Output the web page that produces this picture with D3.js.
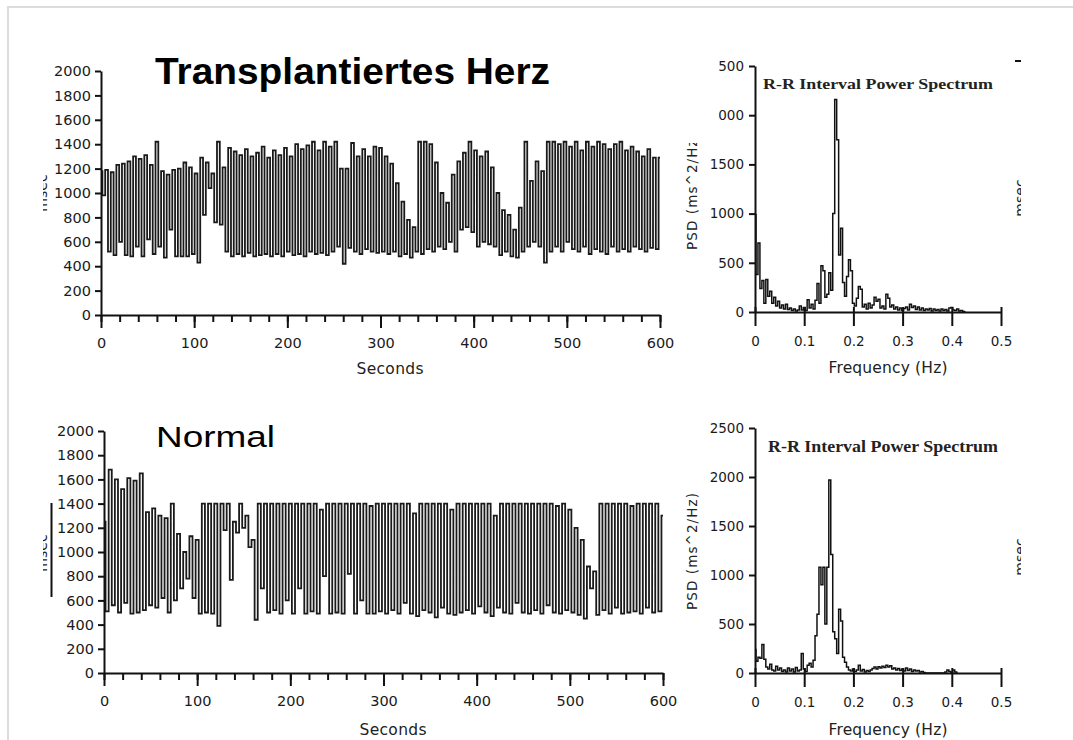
<!DOCTYPE html>
<html>
<head>
<meta charset="utf-8">
<script src="https://cdn.jsdelivr.net/npm/d3@7"></script>
<style>
  body { margin: 0; background: #fff; }
  svg { display: block; }
  .axis text { font-family: "DejaVu Sans", sans-serif; fill: #1a1a1a; }
  .axis line, .axis path { stroke: #111; stroke-width: 2; }
  .label { font-family: "DejaVu Sans", sans-serif; fill: #222; }
</style>
</head>
<body>
<svg id="chart" width="1073" height="740"></svg>
<script>
// R-R intervals (msec), one sample every `step` seconds
const transplantStep = 3;
const transplantRR = [
  1180, 980, 1190, 520, 1170, 490, 1230, 600, 1240, 490,
  1260, 480, 1300, 560, 1280, 480, 1310, 620, 1230, 500,
  1420, 560, 1180, 470, 1150, 700, 1190, 480, 1200, 480,
  1250, 480, 1210, 500, 1160, 430, 1290, 820, 1250, 1040,
  1160, 760, 1420, 740, 1210, 520, 1370, 480, 1340, 500,
  1310, 480, 1360, 510, 1300, 480, 1330, 490, 1380, 500,
  1290, 480, 1350, 500, 1310, 480, 1370, 520, 1300, 490,
  1400, 500, 1360, 480, 1390, 520, 1420, 500, 1350, 510,
  1420, 490, 1380, 520, 1420, 560, 1200, 420, 1200, 550,
  1410, 520, 1300, 500, 1360, 540, 1300, 520, 1380, 510,
  1370, 520, 1300, 500, 1240, 520, 1080, 480, 930, 500,
  780, 470, 720, 520, 1420, 500, 1420, 540, 1400, 520,
  1250, 560, 1000, 540, 920, 600, 1150, 520, 1260, 700,
  1330, 720, 1420, 680, 1350, 560, 1300, 600, 1340, 580,
  1210, 560, 1000, 490, 860, 520, 820, 480, 700, 470,
  880, 520, 1420, 560, 1100, 600, 1260, 560, 1180, 430,
  1420, 520, 1420, 560, 1400, 520, 1420, 600, 1380, 540,
  1420, 520, 1350, 560, 1420, 500, 1380, 540, 1420, 520,
  1400, 500, 1360, 560, 1400, 520, 1420, 540, 1350, 520,
  1380, 560, 1340, 540, 1300, 520, 1360, 550, 1290, 540,
  1290
];

const normalStep = 10 / 3;
const normalRR = [
  1250, 510, 1680, 560, 1600, 500, 1520, 580, 1610,
  490, 1590, 500, 1650, 520, 1330, 560, 1360, 540,
  1300, 620, 1280, 500, 1400, 600, 1150, 700, 1000,
  780, 1130, 620, 1100, 490, 1400, 500, 1400, 490,
  1400, 390, 1400, 1180, 1400, 770, 1250, 1160, 1400,
  1200, 1300, 1040, 1100, 440, 1400, 700, 1400, 500,
  1400, 520, 1400, 490, 1400, 600, 1400, 490, 1400,
  700, 1400, 490, 1400, 510, 1400, 490, 1350, 800,
  1400, 490, 1400, 500, 1400, 490, 1400, 820, 1400,
  490, 1400, 600, 1400, 490, 1380, 490, 1400, 510,
  1400, 490, 1400, 520, 1400, 490, 1400, 580, 1400,
  490, 1320, 470, 1400, 520, 1400, 500, 1400, 460,
  1400, 540, 1400, 490, 1350, 480, 1400, 500, 1400,
  520, 1400, 490, 1400, 550, 1400, 500, 1400, 470,
  1300, 540, 1400, 500, 1400, 490, 1400, 580, 1400,
  500, 1400, 490, 1400, 520, 1400, 490, 1400, 560,
  1400, 500, 1380, 490, 1400, 520, 1350, 500, 1200,
  480, 1100, 450, 880, 700, 840, 480, 1400, 520,
  1400, 490, 1400, 540, 1400, 490, 1400, 500, 1380,
  510, 1400, 490, 1400, 540, 1400, 500, 1400, 510,
  1300
];

// PSD (ms^2/Hz), one bin every psdStep Hz
const psdStep = 0.004;
const transplantPSD = [
  990, 380, 700, 240, 320, 90, 330, 160, 210, 90,
  150, 60, 110, 40, 70, 30, 80, 25, 40, 15,
  30, 10, 20, 60, 20, 45, 15, 125, 40, 80,
  30, 120, 290, 90, 470, 420, 150, 180, 400, 220,
  1000, 2160, 1750, 580, 850, 300, 160, 360, 530, 420,
  90, 60, 140, 260, 230, 50, 80, 30, 90, 40,
  70, 150, 110, 130, 40, 60, 30, 180, 140, 50,
  70, 30, 50, 20, 40, 15, 35, 50, 20, 80,
  45, 60, 25, 50, 20, 40, 15, 30, 20, 35,
  10, 30, 15, 25, 10, 30, 15, 25, 10, 40,
  45, 20, 15, 30, 10, 15, 5, 0
];
const normalPSD = [
  240, 120, 160, 150, 290, 140, 60, 40, 90, 30,
  20, 70, 30, 50, 15, 30, 10, 50, 20, 40,
  10, 55, 20, 30, 200, 40, 15, 80, 100, 60,
  130, 380, 600, 1080, 900, 1080, 500, 1080, 1970, 1210,
  420, 350, 200, 650, 530, 160, 110, 60, 30, 20,
  40, 15, 30, 80, 20, 35, 10, 25, 15, 30,
  45, 60, 40, 65, 50, 70, 55, 80, 60, 75,
  40, 50, 30, 45, 25, 40, 20, 50, 25, 40,
  15, 30, 20, 25, 10, 15, 5, 0, 0, 0,
  0, 0, 0, 0, 0, 0, 0, 10, 30, 15,
  5, 30, 10, 0
];

const secondsTicks = [0, 100, 200, 300, 400, 500, 600];
const msecTicks = [0, 200, 400, 600, 800, 1000, 1200, 1400, 1600, 1800, 2000];
const freqTicks = [0, 0.1, 0.2, 0.3, 0.4, 0.5];
const psdTicks = [0, 500, 1000, 1500, 2000, 2500];

const svg = d3.select("#chart");
const intFmt = d3.format("d");

// faint page frame
svg.append("rect")
  .attr("x", 8).attr("y", 7).attr("width", 1100).attr("height", 800)
  .attr("fill", "none").attr("stroke", "#dcdcdc").attr("stroke-width", 2);

// rotated label of a neighbouring figure, only a sliver of which survives the crop
function cutText(id, clip, x, y, txt, color) {
  svg.append("clipPath").attr("id", id)
    .append("rect").attr("x", clip[0]).attr("y", clip[1]).attr("width", clip[2]).attr("height", clip[3]);
  svg.append("g")
    .attr("clip-path", `url(#${id})`)
    .append("text")
    .attr("class", "label")
    .attr("transform", `translate(${x},${y}) rotate(-90)`)
    .attr("text-anchor", "middle")
    .attr("font-size", 14)
    .attr("fill", color)
    .text(txt);
}

function drawTimePanel(p) {
  const x = d3.scaleLinear().domain([0, 600]).range([p.x0, p.x1]);
  const y = d3.scaleLinear().domain([0, 2000]).range([p.y0, p.y1]);

  const line = d3.line()
    .x((d, i) => x(i * p.step))
    .y((d) => y(d))
    .curve(d3.curveStep);

  svg.append("path")
    .datum(p.values)
    .attr("d", line)
    .attr("fill", "none")
    .attr("stroke", "#1a1a1a")
    .attr("stroke-width", 1.8);

  // minor ticks every 20 s
  svg.append("g")
    .attr("class", "axis")
    .attr("transform", `translate(0,${p.y0})`)
    .call(d3.axisBottom(x).tickValues(d3.range(0, 601, 20)).tickSize(7).tickSizeOuter(0).tickFormat(""))
    .call((g) => g.select(".domain").remove());

  svg.append("g")
    .attr("class", "axis")
    .attr("transform", `translate(0,${p.y0})`)
    .call(d3.axisBottom(x).tickValues(secondsTicks).tickSize(13).tickSizeOuter(0).tickPadding(10).tickFormat(intFmt))
    .call((g) => g.selectAll("text").attr("font-size", 14.5));

  svg.append("g")
    .attr("class", "axis")
    .attr("transform", `translate(${p.x0},0)`)
    .call(d3.axisLeft(y).tickValues(msecTicks).tickSize(6).tickSizeOuter(0).tickPadding(4).tickFormat(intFmt))
    .call((g) => g.selectAll("text").attr("font-size", 14.5));

  svg.append("text")
    .attr("class", "label")
    .attr("x", p.secX).attr("y", p.secY)
    .attr("text-anchor", "middle")
    .attr("font-size", 15.5)
    .attr("textLength", 67)
    .text("Seconds");

  svg.append("text")
    .attr("x", p.titleX).attr("y", p.titleY)
    .attr("font-family", "'Liberation Sans', Arial, sans-serif")
    .attr("font-weight", p.bold ? "bold" : "normal")
    .attr("font-size", p.titleSize)
    .attr("textLength", p.titleLen)
    .attr("lengthAdjust", "spacingAndGlyphs")
    .attr("fill", "#000")
    .text(p.title);
}

function drawSpectrumPanel(p) {
  const x = d3.scaleLinear().domain([0, 0.5]).range([p.x0, p.x1]);
  const y = d3.scaleLinear().domain([0, 2500]).range([p.y0, p.y1]);

  const line = d3.line()
    .x((d, i) => x(i * psdStep))
    .y((d) => y(d))
    .curve(d3.curveStep);

  svg.append("path")
    .datum(p.values)
    .attr("d", line)
    .attr("fill", "none")
    .attr("stroke", "#111")
    .attr("stroke-width", 1.5);

  svg.append("g")
    .attr("class", "axis")
    .attr("transform", `translate(0,${p.y0})`)
    .call(d3.axisBottom(x).tickValues(freqTicks).tickSize(14).tickSizeOuter(0).tickPadding(10)
      .tickFormat((d) => (d === 0 ? "0" : d3.format(".1f")(d))))
    .call((g) => g.selectAll(".tick line").attr("y1", -5))
    .call((g) => g.selectAll("text").attr("font-size", 13.5));

  svg.append("g")
    .attr("class", "axis")
    .attr("transform", `translate(${p.x0},0)`)
    .call(d3.axisLeft(y).tickValues(psdTicks).tickSize(6).tickSizeOuter(0).tickPadding(5).tickFormat(intFmt))
    .call((g) => g.selectAll("text").attr("font-size", 13.5));

  svg.append("text")
    .attr("x", p.titleX).attr("y", p.titleY)
    .attr("font-family", "'Liberation Serif', 'Times New Roman', serif")
    .attr("font-weight", "bold")
    .attr("font-size", p.titleSize)
    .attr("textLength", 230)
    .attr("lengthAdjust", "spacingAndGlyphs")
    .attr("fill", "#222")
    .text("R-R Interval Power Spectrum");

  svg.append("text")
    .attr("class", "label")
    .attr("x", (p.x0 + p.x1) / 2 + 10).attr("y", p.freqY)
    .attr("text-anchor", "middle")
    .attr("font-size", 15.5)
    .attr("textLength", 119)
    .text("Frequency (Hz)");

  svg.append("text")
    .attr("class", "label")
    .attr("transform", `translate(${p.psdX},${p.psdY}) rotate(-90)`)
    .attr("text-anchor", "middle")
    .attr("font-size", 13.5)
    .attr("textLength", 117)
    .text("PSD (ms^2/Hz)");
}

drawTimePanel({
  values: transplantRR, step: transplantStep,
  x0: 101, x1: 660, y0: 315, y1: 71,
  secX: 390, secY: 374,
  title: "Transplantiertes Herz", bold: true, titleX: 155, titleY: 83.5, titleSize: 37, titleLen: 395
});
drawTimePanel({
  values: normalRR, step: normalStep,
  x0: 104, x1: 663, y0: 673, y1: 431,
  secX: 393, secY: 735,
  title: "Normal", bold: false, titleX: 156, titleY: 446.5, titleSize: 30, titleLen: 119
});

drawSpectrumPanel({
  values: transplantPSD,
  x0: 755, x1: 1001, y0: 312, y1: 66,
  titleX: 763, titleY: 89, titleSize: 15,
  freqY: 373, psdX: 697, psdY: 191.5
});
drawSpectrumPanel({
  values: normalPSD,
  x0: 755, x1: 1001, y0: 673, y1: 428,
  titleX: 768, titleY: 452, titleSize: 16,
  freqY: 735, psdX: 697, psdY: 551.5
});

// pieces of the neighbouring figures that were cropped away in the source
svg.append("rect").attr("x", 676).attr("y", 52).attr("width", 42.5).attr("height", 91).attr("fill", "#fff");
cutText("cutL1", [43, 150, 10, 90], 47, 193, "msec", "#b0b0b0");
cutText("cutL2", [43, 510, 10, 90], 47, 553, "msec", "#b0b0b0");
cutText("cutR1", [1005, 150, 16, 90], 1025, 198, "msec", "#444");
cutText("cutR2", [1005, 510, 16, 90], 1025, 557, "msec", "#444");
svg.append("line").attr("x1", 51.5).attr("x2", 51.5).attr("y1", 503).attr("y2", 597)
  .attr("stroke", "#111").attr("stroke-width", 2);
svg.append("line").attr("x1", 1015).attr("x2", 1021).attr("y1", 61).attr("y2", 61)
  .attr("stroke", "#111").attr("stroke-width", 2);
</script>
</body>
</html>
